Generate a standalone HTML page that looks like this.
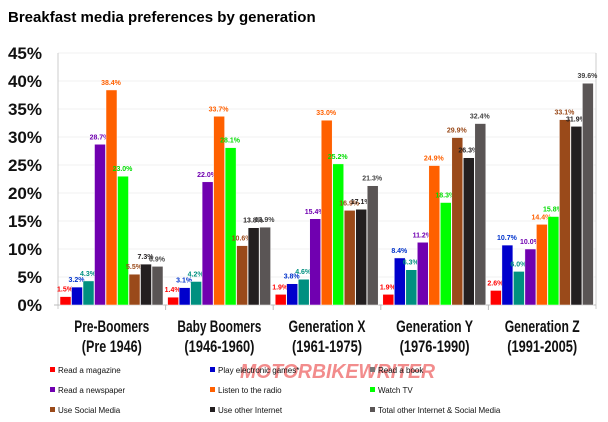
<!DOCTYPE html>
<html><head><meta charset="utf-8"><style>
body{margin:0;background:#fff;width:608px;height:422px;overflow:hidden}
svg{display:block;font-family:"Liberation Sans",sans-serif}
</style></head><body>
<svg id="s" width="608" height="422" xmlns="http://www.w3.org/2000/svg">
<text x="8" y="22" font-size="15" font-weight="bold" fill="#000">Breakfast media preferences by generation</text>
</svg>
<script>
const s=document.getElementById('s'),NS='http://www.w3.org/2000/svg';
function el(t,a,txt){const e=document.createElementNS(NS,t);for(const k in a)e.setAttribute(k,a[k]);if(txt!==undefined)e.textContent=txt;s.appendChild(e);return e;}
const y0=305,py=5.6,x0=58,gw=107.6;
for(let i=0;i<=9;i++){const y=y0-i*5*py;
 if(i>0)el('line',{x1:x0,x2:596,y1:y,y2:y,stroke:'#f0f0f0','stroke-width':1});
 el('text',{x:42,y:y+6,'font-size':17,'font-weight':'bold','text-anchor':'end',fill:'#111'},(i*5)+'%');}
el('line',{x1:x0,x2:x0,y1:53,y2:y0+4,stroke:'#ccc'});
el('line',{x1:596,x2:596,y1:53,y2:y0+4,stroke:'#ccc'});
el('line',{x1:x0-4,x2:596,y1:y0,y2:y0,stroke:'#bbb'});
const cols=['#ff0000','#0000cc','#009080','#7000b0','#ff6000','#00ff00','#9a4a1a','#231f20','#5a5555'];
const lc=['#ff0000','#0033cc','#009080','#7000b0','#ff6000','#00dd00','#9a4a1a','#231f20','#444'];
const d=[[1.5,3.2,4.3,28.7,38.4,23.0,5.5,7.3,6.9],[1.4,3.1,4.2,22.0,33.7,28.1,10.6,13.8,13.9],[1.9,3.8,4.6,15.4,33.0,25.2,16.9,17.1,21.3],[1.9,8.4,6.3,11.2,24.9,18.3,29.9,26.3,32.4],[2.6,10.7,6.0,10.0,14.4,15.8,33.1,31.9,39.6]];
const cats=[['Pre-Boomers','(Pre 1946)',75,60],['Baby Boomers','(1946-1960)',84,70],['Generation X','(1961-1975)',77,70],['Generation Y','(1976-1990)',77,70],['Generation Z','(1991-2005)',75,70]];
d.forEach((g,gi)=>{const gx=x0+gi*gw;
 if(gi>0)el('line',{x1:gx,x2:gx,y1:y0,y2:y0+5,stroke:'#bbb'});
 g.forEach((v,bi)=>{const bx=gx+2+bi*11.5,h=v*py;
  el('rect',{x:bx,y:y0-h,width:11,height:h,fill:cols[bi],stroke:'#fff','stroke-width':0.5});
  el('text',{x:bx+5,y:y0-h-5,'font-size':7,'font-weight':'bold','text-anchor':'middle',fill:lc[bi]},v.toFixed(1)+'%');});
 const c=cats[gi];
 el('text',{x:gx+gw/2-c[2]/2,y:332,'font-size':16.5,'font-weight':'bold',fill:'#111',textLength:c[2],lengthAdjust:'spacingAndGlyphs'},c[0]);
 el('text',{x:gx+gw/2-c[3]/2,y:352,'font-size':16.5,'font-weight':'bold',fill:'#111',textLength:c[3],lengthAdjust:'spacingAndGlyphs'},c[1]);});
el('text',{x:240,y:378,'font-size':20,'font-weight':'bold','font-style':'italic',fill:'#f07070','opacity':0.8,textLength:195,lengthAdjust:'spacingAndGlyphs'},'MOTORBIKEWRITER');
const lg=[['Read a magazine','Play electronic games*','Read a book'],['Read a newspaper','Listen to the radio','Watch TV'],['Use Social Media','Use other Internet','Total other Internet & Social Media']];
const lgc=[[0,1,8],[3,4,5],[6,7,8]];const lx=[50,210,370];
lg.forEach((r,ri)=>r.forEach((t,ci)=>{const y=372+ri*20;
 el('rect',{x:lx[ci],y:y-5,width:5,height:5,fill:ci==2&&ri==0?'#777':cols[lgc[ri][ci]]});
 el('text',{x:lx[ci]+8,y:y+1,'font-size':8,fill:'#111'},t);}));
</script>
</body></html>
